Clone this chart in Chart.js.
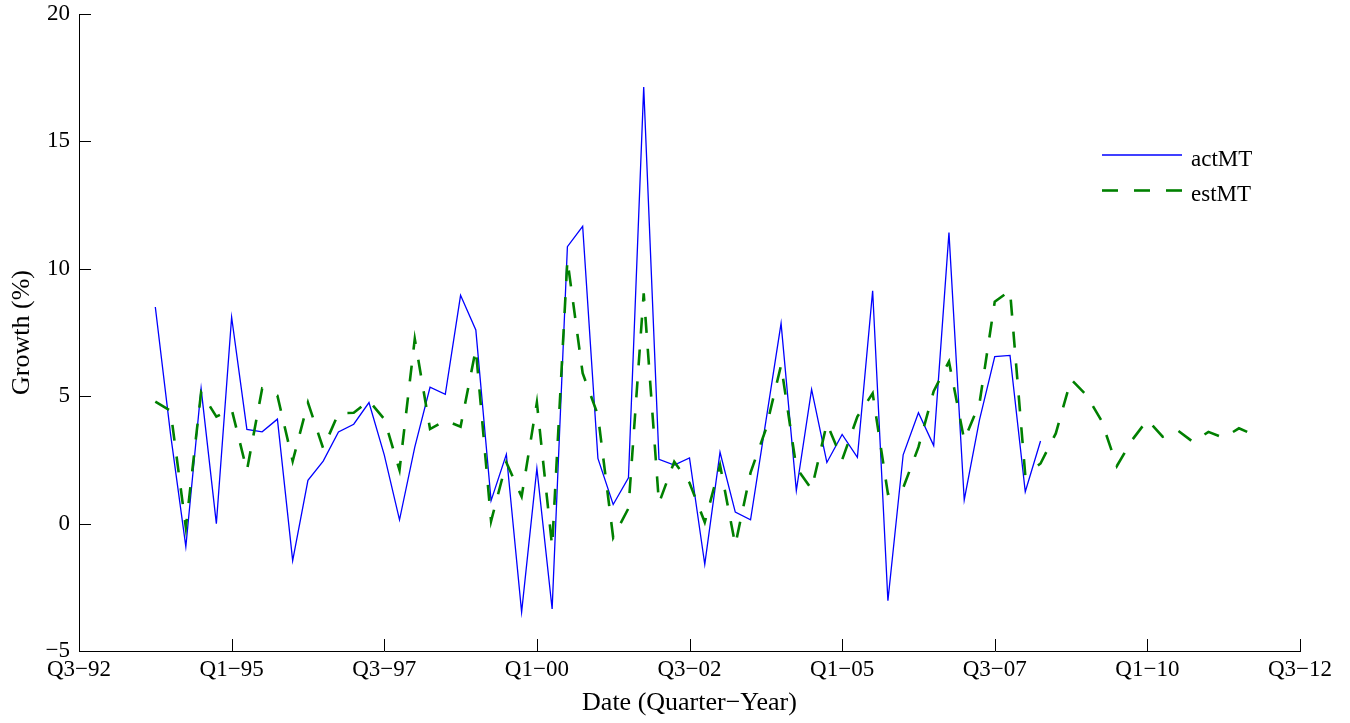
<!DOCTYPE html>
<html>
<head>
<meta charset="utf-8">
<script src="https://cdn.jsdelivr.net/npm/chart.js@4/dist/chart.umd.min.js"></script>
<style>
  html, body { margin: 0; padding: 0; background: #fff; }
  #wrap { width: 1350px; height: 723px; }
</style>
</head>
<body>
<div id="wrap"><canvas id="c" width="1350" height="723"></canvas></div>
<script>
// Quarterly growth: actual vs. estimated (%)
const quarterTicks = ['Q3−92', 'Q1−95', 'Q3−97', 'Q1−00', 'Q3−02', 'Q1−05', 'Q3−07', 'Q1−10', 'Q3−12'];
const axisStart = 'Q3−92';
const seriesStart = 'Q4−93';

// actual growth, Q4−93 .. Q2−08
const actMT = [
  8.5, 3.5, -0.9, 5.3, 0.0, 8.1, 3.7, 3.6, 4.1, -1.45,
  1.7, 2.45, 3.6, 3.9, 4.75, 2.7, 0.15, 3.0, 5.35, 5.07,
  8.96, 7.6, 0.9, 2.72, -3.47, 2.17, -3.35, 10.87, 11.67, 2.56,
  0.75, 1.8, 17.13, 2.52, 2.3, 2.58, -1.6, 2.8, 0.45, 0.15,
  4.0, 7.86, 1.3, 5.27, 2.4, 3.5, 2.6, 9.14, -3.03, 2.7,
  4.35, 3.06, 11.42, 0.93, 4.07, 6.55, 6.6, 1.25, 3.24
];

// estimated growth, Q4−93 .. Q4−11
const estMT = [
  4.79, 4.43, -0.15, 5.15, 4.2, 4.49, 2.08, 5.3, 5.02, 2.45,
  4.75, 2.95, 4.33, 4.35, 4.82, 4.1, 2.1, 7.25, 3.71, 4.05,
  3.8, 6.85, 0.1, 2.4, 1.06, 4.75, -0.9, 10.35, 5.9, 4.26,
  -0.55, 0.6, 9.04, 0.8, 2.43, 1.6, 0.05, 2.3, -0.84, 2.0,
  3.7, 6.22, 2.2, 1.35, 3.93, 2.5, 4.2, 5.11, 1.17, 1.4,
  3.0, 5.2, 6.36, 3.28, 4.72, 8.71, 9.14, 1.9, 2.36, 3.54,
  5.66, 5.05, 4.03, 2.26, 3.28, 4.07, 3.41, 3.65, 3.2, 3.6,
  3.37, 3.74, 3.48
];

const SERIF = "'Liberation Serif', 'Times New Roman', Times, serif";
const MINUS = '\u2212';

// quarter label -> running quarter number
function quarterIndex(label) {
  const m = label.match(/Q(\d)\D(\d\d)/);
  const q = +m[1], yy = +m[2];
  const year = yy < 50 ? 2000 + yy : 1900 + yy;
  return year * 4 + (q - 1);
}
const offset = quarterIndex(seriesStart) - quarterIndex(axisStart);
const toPoints = arr => arr.map((v, k) => ({ x: offset + k, y: v }));

// tick marks pointing into the plot area
const inwardTicks = {
  id: 'inwardTicks',
  afterDraw(chart) {
    const { ctx, chartArea: a, scales: { x, y } } = chart;
    ctx.save();
    ctx.strokeStyle = '#000';
    ctx.lineWidth = 1;
    ctx.beginPath();
    y.ticks.forEach(t => {
      const py = Math.round(y.getPixelForValue(t.value)) + 0.5;
      ctx.moveTo(a.left, py);
      ctx.lineTo(a.left + 12, py);
    });
    x.ticks.forEach(t => {
      const px = Math.round(x.getPixelForValue(t.value)) + 0.5;
      ctx.moveTo(px, a.bottom);
      ctx.lineTo(px, a.bottom - 12);
    });
    ctx.stroke();
    ctx.restore();
  }
};

// legend box inside the plot, upper right
const insetLegend = {
  id: 'insetLegend',
  afterDraw(chart) {
    const { ctx, chartArea: a } = chart;
    const x0 = a.right - 198, len = 80, y0 = a.top + 141, step = 35.5;
    chart.data.datasets.forEach((ds, i) => {
      const yy = y0 + i * step;
      ctx.save();
      ctx.strokeStyle = ds.borderColor;
      ctx.lineWidth = ds.borderWidth;
      ctx.setLineDash(ds.borderDash || []);
      ctx.beginPath();
      ctx.moveTo(x0, yy);
      ctx.lineTo(x0 + len, yy);
      ctx.stroke();
      ctx.setLineDash([]);
      ctx.fillStyle = '#000';
      ctx.font = '23px ' + SERIF;
      ctx.textAlign = 'left';
      ctx.textBaseline = 'alphabetic';
      ctx.fillText(ds.label, x0 + len + 9, yy + 10.5);
      ctx.restore();
    });
  }
};

new Chart(document.getElementById('c'), {
  type: 'line',
  data: {
    datasets: [
      {
        label: 'actMT',
        data: toPoints(actMT),
        borderColor: '#0000ff',
        borderWidth: 1.3,
        pointRadius: 0,
        tension: 0,
        fill: false,
        order: 1
      },
      {
        label: 'estMT',
        data: toPoints(estMT),
        borderColor: '#008000',
        borderWidth: 2.6,
        borderDash: [16, 16],
        pointRadius: 0,
        tension: 0,
        fill: false,
        order: 0
      }
    ]
  },
  options: {
    responsive: false,
    animation: false,
    devicePixelRatio: 1,
    layout: { padding: { top: 14, right: 50, left: 0, bottom: 0 } },
    plugins: { legend: { display: false }, tooltip: { enabled: false } },
    scales: {
      x: {
        type: 'linear',
        min: 0,
        max: 80,
        afterFit(s) { s.height = 72; s.paddingLeft = 0; s.paddingRight = 0; },
        ticks: {
          stepSize: 10,
          autoSkip: false,
          maxRotation: 0,
          padding: 5,
          color: '#000',
          font: { family: SERIF, size: 23 },
          callback: v => quarterTicks[v / 10]
        },
        grid: { drawOnChartArea: false, drawTicks: false },
        border: { display: true, color: '#000', width: 1 },
        title: {
          display: true,
          text: 'Date (Quarter−Year)',
          color: '#000',
          font: { family: SERIF, size: 26 },
          padding: { top: 0, bottom: 4 }
        }
      },
      y: {
        min: -5,
        max: 20,
        afterFit(s) { s.width = 79; s.paddingTop = 0; s.paddingBottom = 0; },
        ticks: {
          stepSize: 5,
          padding: 9,
          color: '#000',
          font: { family: SERIF, size: 23 },
          callback: v => String(v).replace('-', MINUS)
        },
        grid: { drawOnChartArea: false, drawTicks: false },
        border: { display: true, color: '#000', width: 1 },
        title: {
          display: true,
          text: 'Growth (%)',
          color: '#000',
          font: { family: SERIF, size: 26 },
          padding: { top: 7, bottom: 0 }
        }
      }
    }
  },
  plugins: [inwardTicks, insetLegend]
});
</script>
</body>
</html>
